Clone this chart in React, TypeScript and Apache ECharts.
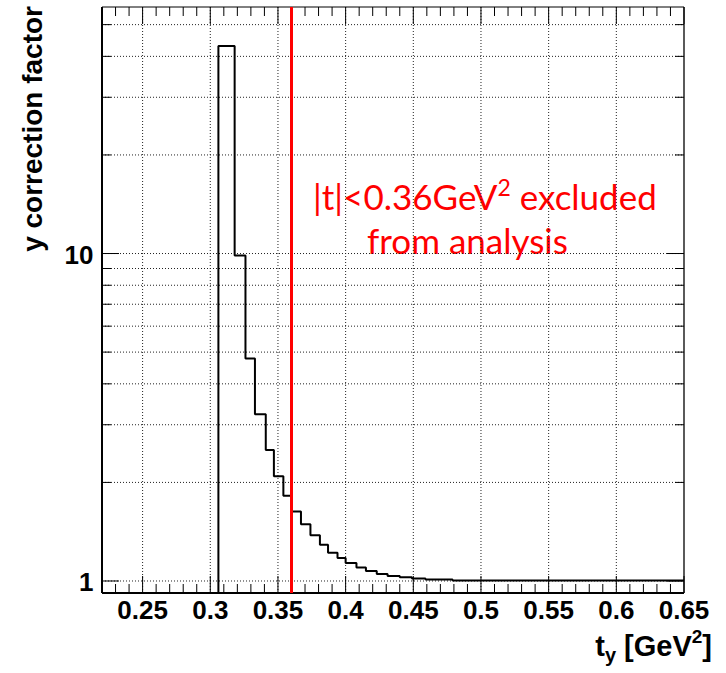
import React, { useEffect, useRef } from "react";
import * as echarts from "echarts";

// ---- axis ranges ----
const X_MIN = 0.22;
const X_MAX = 0.65;
const Y_MIN = 0.919;
const Y_MAX = 56.6;

// ---- histogram: bin edges (n+1) and y correction factor per bin (0 = empty bin) ----
const binEdges = [
  0.22, 0.306, 0.318, 0.326, 0.333, 0.341, 0.347, 0.354, 0.36, 0.367, 0.374,
  0.381, 0.387, 0.394, 0.4, 0.408, 0.415, 0.423, 0.431, 0.44, 0.449, 0.459,
  0.479, 0.65,
];
const correctionFactor = [
  0, 43.0, 9.87, 4.78, 3.23, 2.51, 2.09, 1.82, 1.63, 1.49, 1.38, 1.29, 1.22,
  1.175, 1.135, 1.1, 1.073, 1.05, 1.036, 1.026, 1.017, 1.01, 1.003,
];

// ---- cut ----
const cutValue = 0.36;

// ---- ticks / labels ----
const xTickLabels = [0.25, 0.3, 0.35, 0.4, 0.45, 0.5, 0.55, 0.6, 0.65];
const xGridLines = [0.25, 0.3, 0.35, 0.4, 0.45, 0.5, 0.55, 0.6];
const xMinorStep = 0.01;
const yTickLabels = [1, 10];
const yMinorTicks = [2, 3, 4, 5, 6, 7, 8, 9, 20, 30, 40, 50];
const yGridLines = [1, 2, 3, 4, 5, 6, 7, 8, 9, 10, 20, 30, 40, 50];

const LABEL_FONT = 'bold 26px "Liberation Sans", Arial, sans-serif';
const GRID_STYLE = { stroke: "#222", lineWidth: 1, lineDash: [1, 2] };

export default function App() {
  const ref = useRef<HTMLDivElement>(null);

  useEffect(() => {
    if (!ref.current) return;
    const chart = echarts.init(ref.current, null, { renderer: "svg" });

    const histPoints: [number, number][] = correctionFactor.map((v, i) => [
      binEdges[i],
      v > 0 ? v : Y_MIN,
    ]);
    const lastVal = correctionFactor[correctionFactor.length - 1];
    histPoints.push([binEdges[binEdges.length - 1], lastVal > 0 ? lastVal : Y_MIN]);

    const xMinorTicks: number[] = [];
    for (let k = 23; k <= 64; k++) {
      if (k % 5 !== 0) xMinorTicks.push(k * xMinorStep);
    }

    const frameItem = (params: any, api: any) => {
      const [x0, yb] = api.coord([X_MIN, Y_MIN]);
      const [x1, yt] = api.coord([X_MAX, Y_MAX]);
      const ch: any[] = [];
      // grid lines
      yGridLines.forEach((v) => {
        const y = api.coord([X_MIN, v])[1];
        ch.push({ type: "line", shape: { x1: x0, y1: y, x2: x1, y2: y }, style: GRID_STYLE });
      });
      xGridLines.forEach((v) => {
        const x = api.coord([v, Y_MIN])[0];
        ch.push({ type: "line", shape: { x1: x, y1: yb, x2: x, y2: yt }, style: GRID_STYLE });
      });
      const tick = { stroke: "#000", lineWidth: 1 };
      // y ticks
      const yTick = (v: number, len: number) => {
        const y = api.coord([X_MIN, v])[1];
        ch.push({ type: "line", shape: { x1: x0, y1: y, x2: x0 + len, y2: y }, style: tick });
        ch.push({ type: "line", shape: { x1: x1, y1: y, x2: x1 - len, y2: y }, style: tick });
      };
      yTickLabels.forEach((v) => yTick(v, 17));
      yMinorTicks.forEach((v) => yTick(v, 9));
      // x ticks
      const xTick = (v: number, len: number) => {
        const x = api.coord([v, Y_MIN])[0];
        ch.push({ type: "line", shape: { x1: x, y1: yb, x2: x, y2: yb - len }, style: tick });
        ch.push({ type: "line", shape: { x1: x, y1: yt, x2: x, y2: yt + len }, style: tick });
      };
      xTickLabels.forEach((v) => xTick(v, 17));
      xMinorTicks.forEach((v) => xTick(v, 9));
      // y labels
      yTickLabels.forEach((v) => {
        const y = api.coord([X_MIN, v])[1];
        ch.push({
          type: "text",
          x: x0 - 8.5,
          y: y + 1,
          style: {
            text: String(v),
            font: LABEL_FONT,
            fill: "#000",
            align: "right",
            textAlign: "right",
            verticalAlign: "middle",
            textVerticalAlign: "middle",
          },
        });
      });
      // frame
      ch.push({ type: "line", shape: { x1: x0, y1: yt, x2: x1, y2: yt }, style: { stroke: "#000", lineWidth: 1 } });
      ch.push({ type: "line", shape: { x1: x1, y1: yt, x2: x1, y2: yb }, style: { stroke: "#000", lineWidth: 1.3 } });
      ch.push({ type: "line", shape: { x1: x0, y1: yt, x2: x0, y2: yb }, style: { stroke: "#000", lineWidth: 2 } });
      ch.push({ type: "line", shape: { x1: x0, y1: yb, x2: x1, y2: yb }, style: { stroke: "#000", lineWidth: 2 } });
      return { type: "group", children: ch };
    };

    const redText = {
      fill: "#ff0000",
      fontFamily: "Lato, sans-serif",
      fontSize: 35,
      align: "left",
      textAlign: "left",
      verticalAlign: "middle",
      textVerticalAlign: "middle",
    };

    chart.setOption({
      animation: false,
      grid: { left: 102, right: 42, top: 7, bottom: 80 },
      xAxis: {
        type: "value",
        min: X_MIN,
        max: X_MAX,
        axisLine: { show: false },
        axisTick: { show: false },
        splitLine: { show: false },
        axisLabel: {
          customValues: xTickLabels,
          formatter: (v: number) => String(v),
          color: "#000",
          fontFamily: '"Liberation Sans", Arial, sans-serif',
          fontWeight: "bold",
          fontSize: 26,
          margin: 4,
        },
      },
      yAxis: {
        type: "log",
        logBase: 10,
        min: Y_MIN,
        max: Y_MAX,
        axisLine: { show: false },
        axisTick: { show: false },
        axisLabel: { show: false },
        splitLine: { show: false },
      },
      series: [
        {
          type: "custom",
          clip: false,
          silent: true,
          data: [[X_MIN, Y_MIN]],
          renderItem: frameItem,
          z: 1,
        },
        {
          type: "line",
          data: histPoints,
          step: "end",
          symbol: "none",
          lineStyle: { color: "#000", width: 2 },
          z: 3,
          markLine: {
            silent: true,
            symbol: ["none", "none"],
            label: { show: false },
            lineStyle: { color: "#ff0000", width: 3, type: "solid" },
            data: [{ xAxis: cutValue }],
          },
        },
      ],
      graphic: [
        {
          type: "text",
          x: 32,
          y: 6,
          rotation: Math.PI / 2,
          style: {
            text: "y correction factor",
            font: 'bold 28px "Liberation Sans", Arial, sans-serif',
            fill: "#000",
            align: "right",
            textAlign: "right",
            verticalAlign: "middle",
            textVerticalAlign: "middle",
          },
        },
        {
          type: "text",
          x: 712,
          y: 646,
          style: {
            text: "{m|t}{sub|y}{m| [GeV}{sup|2}{m|]}",
            fill: "#000",
            align: "right",
            textAlign: "right",
            verticalAlign: "middle",
            textVerticalAlign: "middle",
            rich: {
              m: { fontFamily: '"Liberation Sans", Arial', fontWeight: "bold", fontSize: 29, lineHeight: 38, verticalAlign: "middle" },
              sub: { fontFamily: '"Liberation Sans", Arial', fontWeight: "bold", fontSize: 20, lineHeight: 38, verticalAlign: "bottom" },
              sup: { fontFamily: '"Liberation Sans", Arial', fontWeight: "bold", fontSize: 19, lineHeight: 38, verticalAlign: "top" },
            },
          },
        },
        {
          type: "text",
          x: 313,
          y: 196,
          style: {
            ...redText,
            text: "|t|<0.36GeV{sup|2} excluded",
            rich: {
              sup: { fill: "#ff0000", fontFamily: "Lato, sans-serif", fontSize: 23, verticalAlign: "top", lineHeight: 42 },
            },
          },
        },
        {
          type: "text",
          x: 367,
          y: 240,
          style: { ...redText, text: "from analysis" },
        },
      ],
    });

    return () => chart.dispose();
  }, []);

  return (
    <div
      ref={ref}
      style={{ position: "absolute", left: 0, top: 0, width: 726, height: 673 }}
    />
  );
}
